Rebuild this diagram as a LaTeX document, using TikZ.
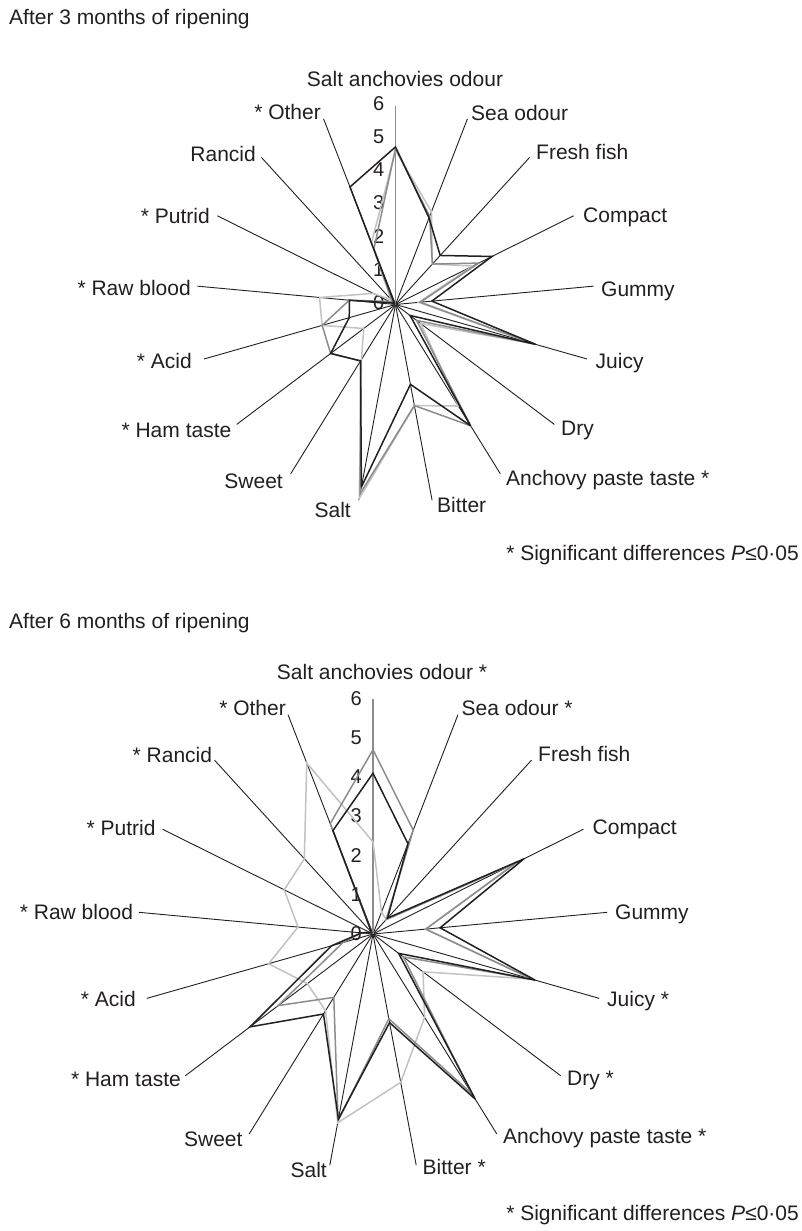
\documentclass[tikz,border=0pt]{standalone}
\usepackage{fontspec}
\setmainfont{Liberation Sans}
\definecolor{ink}{HTML}{231F20}
\definecolor{midser}{HTML}{8C8C8C}
\definecolor{lightser}{HTML}{C2C2C2}
\newcommand\mkseries[5]{%
  \foreach \v [count=\i from 0] in {#5} {%
    \coordinate (#1\i) at ({#2+#4*\v*sin(\i*360/17)},{#3-#4*\v*cos(\i*360/17)});
  }%
}
\newcommand\drawseries[2]{%
  \draw[#1] (#20) \foreach \i in {1,...,16} { -- (#2\i) } -- cycle;
}
\newcommand\mkaxes[4]{%
  \coordinate (#1c) at (#2,#3);
  \foreach \i in {0,...,16} {%
    \coordinate (#1a\i) at ({#2+#4*sin(\i*360/17)},{#3-#4*cos(\i*360/17)});
  }%
  \foreach \i in {1,...,16} { \draw[axisline] (#1c) -- (#1a\i); }%
  \draw[valaxis] (#1c) -- (#1a0);
}
\begin{document}
\begin{tikzpicture}[x=1pt,y=-1pt,
  axisline/.style={draw=ink, line width=0.9pt},
  valaxis/.style={draw=midser, line width=1.4pt},
  blackline/.style={draw=ink, line width=1.5pt, line join=miter, miter limit=4},
  midline/.style={draw=midser, line width=1.5pt, line join=miter, miter limit=4},
  lightline/.style={draw=lightser, line width=1.5pt, line join=miter, miter limit=4},
  lbl/.style={font=\fontsize{21}{25}\selectfont, inner sep=0pt, text=ink},
  num/.style={font=\fontsize{20}{24}\selectfont, inner sep=0pt, text=ink, anchor=base east}]
\useasboundingbox[fill=white] (0,0) rectangle (801,1231);

% ---------------- Chart 1 : 3 months ----------------
\node[lbl, anchor=base west] (t1) at (9,24.5) {After 3 months of ripening};
\mkaxes{p}{395.5}{304.5}{199}
\foreach \v in {0,...,6} { \node[num] (na\v) at ({384.5},{304.5-33.17*\v+5}) {\v}; }
\mkseries{pl}{395.5}{304.5}{33.17}{4.65,3.0,1.65,2.6,0.7,4.3,0.95,3.6,3.1,5.95,1.95,1.2,2.3,2.3,0.75,0.2,2.0}
\mkseries{pm}{395.5}{304.5}{33.17}{4.7,2.85,1.65,2.8,0.75,4.35,0.8,4.3,3.1,5.8,2.0,2.45,2.3,1.4,0.2,0.15,1.8}
\mkseries{pb}{395.5}{304.5}{33.17}{4.75,2.8,2.0,3.25,1.1,4.4,0.55,4.3,2.45,5.6,2.0,2.45,1.45,1.4,0.1,0.05,3.8}
\drawseries{lightline}{pl}
\drawseries{midline}{pm}
\drawseries{blackline}{pb}

\node[lbl, anchor=base] (l1-0) at (405,86) {Salt anchovies odour};
\node[lbl, anchor=base west] (l1-1) at (471,120) {Sea odour};
\node[lbl, anchor=base west] (l1-2) at (536,159) {Fresh fish};
\node[lbl, anchor=base west] (l1-3) at (583,222.5) {Compact};
\node[lbl, anchor=base west] (l1-4) at (601,296) {Gummy};
\node[lbl, anchor=base west] (l1-5) at (595.5,368) {Juicy};
\node[lbl, anchor=base west] (l1-6) at (561,435) {Dry};
\node[lbl, anchor=base west] (l1-7) at (506,485) {Anchovy paste taste *};
\node[lbl, anchor=base west] (l1-8) at (437,512.5) {Bitter};
\node[lbl, anchor=base east] (l1-9) at (351,517) {Salt};
\node[lbl, anchor=base east] (l1-10) at (283,488.5) {Sweet};
\node[lbl, anchor=base east] (l1-11) at (231.5,437.5) {* Ham taste};
\node[lbl, anchor=base east] (l1-12) at (192,368.5) {* Acid};
\node[lbl, anchor=base east] (l1-13) at (191,295.5) {* Raw blood};
\node[lbl, anchor=base east] (l1-14) at (210,223) {* Putrid};
\node[lbl, anchor=base east] (l1-15) at (256,161.5) {Rancid};
\node[lbl, anchor=base east] (l1-16) at (321,119.5) {* Other};
\node[lbl, anchor=base east] (s1) at (799,560.5) {* Significant differences \textit{P}≤0·05};

% ---------------- Chart 2 : 6 months ----------------
\node[lbl, anchor=base west] (t2) at (9,628.5) {After 6 months of ripening};
\mkaxes{q}{373}{934}{235.2}
\foreach \v in {0,...,6} { \node[num] (nb\v) at ({362},{934-39.2*\v+6.5}) {\v}; }
\mkseries{ql}{373}{934}{39.2}{2.35,0.6,0.5,4.05,1.35,4.2,1.6,2.5,3.85,4.9,2.3,2.1,2.77,1.92,2.53,2.6,4.68}
\mkseries{qm}{373}{934}{39.2}{4.7,2.84,0.5,4.1,1.35,4.25,0.97,4.8,2.2,4.85,1.9,3.03,0.8,0.3,0.1,0.05,3.02}
\mkseries{qb}{373}{934}{39.2}{4.1,2.47,0.55,4.3,1.72,4.3,0.82,4.95,2.3,4.8,2.4,3.93,1.1,0.3,0.1,0.05,2.83}
\drawseries{lightline}{ql}
\drawseries{midline}{qm}
\drawseries{blackline}{qb}

\node[lbl, anchor=base] (l2-0) at (382,679) {Salt anchovies odour *};
\node[lbl, anchor=base west] (l2-1) at (461.5,715) {Sea odour *};
\node[lbl, anchor=base west] (l2-2) at (538,761.5) {Fresh fish};
\node[lbl, anchor=base west] (l2-3) at (592.5,834.5) {Compact};
\node[lbl, anchor=base west] (l2-4) at (615,919.5) {Gummy};
\node[lbl, anchor=base west] (l2-5) at (607,1006.5) {Juicy *};
\node[lbl, anchor=base west] (l2-6) at (567,1085) {Dry *};
\node[lbl, anchor=base west] (l2-7) at (503,1143) {Anchovy paste taste *};
\node[lbl, anchor=base west] (l2-8) at (422.5,1174.5) {Bitter *};
\node[lbl, anchor=base east] (l2-9) at (327,1177) {Salt};
\node[lbl, anchor=base east] (l2-10) at (242.7,1146.5) {Sweet};
\node[lbl, anchor=base east] (l2-11) at (181,1086.5) {* Ham taste};
\node[lbl, anchor=base east] (l2-12) at (136,1006.5) {* Acid};
\node[lbl, anchor=base east] (l2-13) at (133.3,919.5) {* Raw blood};
\node[lbl, anchor=base east] (l2-14) at (155.7,835) {* Putrid};
\node[lbl, anchor=base east] (l2-15) at (212.3,762) {* Rancid};
\node[lbl, anchor=base east] (l2-16) at (286,715.5) {* Other};
\node[lbl, anchor=base east] (s2) at (799,1220) {* Significant differences \textit{P}≤0·05};
\end{tikzpicture}
\end{document}
